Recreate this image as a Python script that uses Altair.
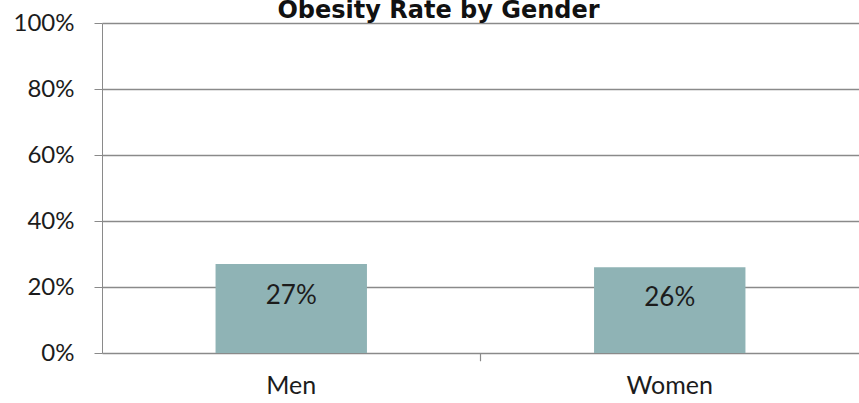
import altair as alt
import pandas as pd

genders = ["Men", "Women"]
obesity_rate = [0.27, 0.26]
rate_labels = ["27%", "26%"]
y_ticks = [0, 0.2, 0.4, 0.6, 0.8, 1.0]

df = pd.DataFrame({"gender": genders, "rate": obesity_rate, "label": rate_labels})

LABEL_FONT = "Lato"
TEXT_COLOR = "#1c1c1c"
GRID_COLOR = "#8a8a8a"
PLOT_W = 757
PAD_INNER = 0.6
PAD_OUTER = 0.3

x_scale = alt.Scale(paddingInner=PAD_INNER, paddingOuter=PAD_OUTER)
step = PLOT_W / (len(genders) - PAD_INNER + 2 * PAD_OUTER)
half_gap = step * PAD_INNER / 2

bars = alt.Chart(df).mark_bar(color="#8fb3b5").encode(
    x=alt.X(
        "gender:N",
        sort=genders,
        title=None,
        scale=x_scale,
        axis=alt.Axis(
            labelAngle=0,
            labelFont=LABEL_FONT,
            labelFontSize=25,
            labelColor=TEXT_COLOR,
            labelPadding=20,
            ticks=False,
            domain=False,
            grid=False,
        ),
    ),
    y=alt.Y(
        "rate:Q",
        title=None,
        scale=alt.Scale(domain=[0, 1]),
        axis=alt.Axis(
            format=".0%",
            values=y_ticks,
            labelFont=LABEL_FONT,
            labelFontSize=24,
            labelColor=TEXT_COLOR,
            labelPadding=20,
            tickSize=8,
            tickColor=GRID_COLOR,
            domainColor=GRID_COLOR,
            gridColor=GRID_COLOR,
            gridWidth=1.5,
        ),
    ),
)

# small category-separator tick below the baseline, halfway between the bands
separators = (
    alt.Chart(df)
    .transform_filter(alt.datum.gender == genders[0])
    .mark_rule(color=GRID_COLOR, strokeWidth=1.2, xOffset=half_gap)
    .encode(
        x=alt.X("gender:N", sort=genders, bandPosition=1),
        y=alt.datum(0),
        y2=alt.datum(-0.025),
    )
)

labels = alt.Chart(df).mark_text(
    font=LABEL_FONT, fontSize=26, color=TEXT_COLOR, baseline="middle", dy=-12
).encode(
    x=alt.X("gender:N", sort=genders),
    y=alt.Y("mid:Q"),
    text="label:N",
).transform_calculate(mid="datum.rate / 2")

chart = (
    alt.layer(bars, separators, labels)
    .properties(
        width=PLOT_W,
        height=330,
        padding={"left": 102, "top": 23, "right": 0, "bottom": 50},
        autosize=alt.AutoSizeParams(type="none"),
        title=alt.TitleParams(
            "Obesity Rate by Gender",
            font="DejaVu Sans",
            fontSize=24,
            fontWeight="bold",
            color="#111111",
            anchor="middle",
            frame="group",
            dx=-42,
            dy=31,
            offset=0,
            baseline="alphabetic",
        ),
    )
    .configure_view(stroke=None)
)

chart.save("out.html", embed_options={"renderer": "svg", "actions": False})
